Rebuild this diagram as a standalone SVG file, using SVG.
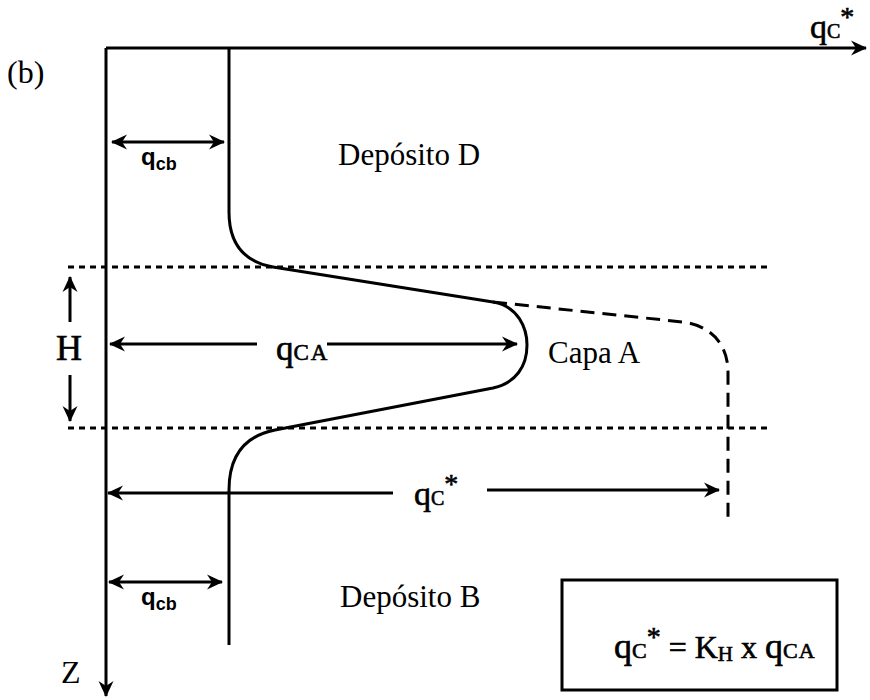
<svg xmlns="http://www.w3.org/2000/svg" width="870" height="700" viewBox="0 0 870 700">
<style>
.ln{fill:none;stroke:#000;stroke-width:3}
.dot{fill:none;stroke:#000;stroke-width:3;stroke-dasharray:6 5}
.dash{fill:none;stroke:#000;stroke-width:3;stroke-dasharray:14 8}
.arr{fill:none;stroke:#000;stroke-width:3;marker-end:url(#ah)}
.arr2{fill:none;stroke:#000;stroke-width:3;marker-end:url(#ah);marker-start:url(#ah)}
.sf{font-family:"Liberation Serif","Times New Roman",serif;fill:#000}
.sq{font-family:"Liberation Serif","Times New Roman",serif;fill:#000;stroke:#000;stroke-width:0.6}
.ss{font-family:"Liberation Sans",Arial,sans-serif;font-weight:bold;fill:#000}
</style>
<defs>
<marker id="ah" viewBox="-16 -8 17 16" refX="0" refY="0" markerWidth="17" markerHeight="16" markerUnits="userSpaceOnUse" orient="auto-start-reverse">
<path d="M1,0 L-15,-7.5 L-10,0 L-15,7.5 Z" fill="#000"/>
</marker>
</defs>
<rect width="870" height="700" fill="#fff"/>
<g id="axes">
<path class="arr" d="M106,48 L866,48"/>
<path class="arr" d="M106,48 L106,696"/>
<text class="sq" x="810" y="38"><tspan font-size="34">q</tspan><tspan font-size="20">C</tspan><tspan font-size="28" dy="-12">*</tspan></text>
<text class="sf" x="61" y="683" font-size="32">Z</text>
<text class="sf" x="7" y="83" font-size="32">(b)</text>
</g>
<g id="layer-lines">
<path class="dot" d="M68,267 L772,267"/>
<path class="dot" d="M68,428 L772,428"/>
</g>
<g id="profile">
<path class="ln" d="M229,48 L229,212 C229,245 245,262 273,267 L493,302 C518,306 527,328 527,345 C527,366 516,383 493,388 L275,430 C245,436 229,455 229,490 L229,645"/>
<path class="dash" d="M493,302 L683,322 C712,326 728,345 728,372 L728,518"/>
</g>
<g id="connectors">
<path class="arr2" d="M112,142 L224,142"/>
<path class="arr2" d="M109,582 L222,582"/>
<path class="arr" d="M70,322 L70,277"/>
<path class="arr" d="M70,375 L70,421"/>
<path class="arr" d="M257,344 L110,344"/>
<path class="arr" d="M327,344 L517,344"/>
<path class="arr" d="M393,493 L108,493"/>
<path class="arr" d="M487,490 L719,490"/>
</g>
<g id="labels">
<text class="ss" x="141" y="165"><tspan font-size="24">q</tspan><tspan font-size="18" dy="5">cb</tspan></text>
<text class="ss" x="141" y="605"><tspan font-size="24">q</tspan><tspan font-size="18" dy="5">cb</tspan></text>
<text class="sq" x="56" y="360" font-size="36" stroke-width="0.8">H</text>
<text class="sq" x="276" y="360"><tspan font-size="35">q</tspan><tspan font-size="23" letter-spacing="2">CA</tspan></text>
<text class="sq" x="414" y="505"><tspan font-size="34">q</tspan><tspan font-size="20">C</tspan><tspan font-size="28" dy="-12">*</tspan></text>
</g>
<g id="deposito-d"><text class="sf" x="338" y="165" font-size="31">Depósito D</text></g>
<g id="capa-a"><text class="sf" x="548" y="363" font-size="31">Capa A</text></g>
<g id="deposito-b"><text class="sf" x="340" y="607" font-size="31">Depósito B</text></g>
<g id="formula">
<rect class="ln" x="562" y="580" width="275" height="110"/>
<text class="sq" x="614" y="658"><tspan font-size="36">q</tspan><tspan font-size="22">C</tspan><tspan font-size="28" dy="-12">*</tspan><tspan font-size="32" dy="12"> = K</tspan><tspan font-size="21" dy="3">H</tspan><tspan font-size="32" dy="-3"> x </tspan><tspan font-size="36">q</tspan><tspan font-size="22" letter-spacing="1">CA</tspan></text>
</g>
</svg>
